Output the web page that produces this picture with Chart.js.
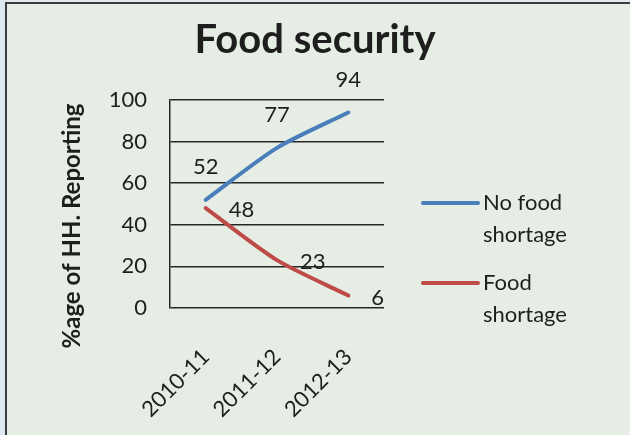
<!DOCTYPE html>
<html>
<head>
<meta charset="utf-8">
<script src="https://cdn.jsdelivr.net/npm/chart.js@4.4.1/dist/chart.umd.min.js"></script>
<style>
  html, body { margin: 0; padding: 0; background: #dde8f1; }
  #frame {
    position: absolute; left: 5px; top: 2px; right: -4px; bottom: -4px;
    background: #e6ede4;
    border-left: 2px solid #3b3b3b;
    border-top: 2px solid #3b3b3b;
  }
  #wrap { position: absolute; left: 0; top: 0; width: 630px; height: 435px; }
</style>
</head>
<body>
<div id="frame"></div>
<div id="wrap"><canvas id="foodChart" width="630" height="435"></canvas></div>
<script>
  const years = ["2010-11", "2011-12", "2012-13"];
  const noShortage = [52, 77, 94];
  const shortage = [48, 23, 6];
  const seriesNames = [["No food", "shortage"], ["Food", "shortage"]];
  const yTicks = [0, 20, 40, 60, 80, 100];

  const textColor = "#1e1e1e";
  const fontFamily = "Lato, 'Open Sans', sans-serif";

  // chart title centred over the whole canvas
  Chart.register({
    id: "centerTitle",
    afterDraw(chart) {
      const { ctx, width } = chart;
      ctx.save();
      ctx.font = `bold 40px ${fontFamily}`;
      ctx.fillStyle = textColor;
      ctx.textAlign = "center";
      ctx.textBaseline = "alphabetic";
      ctx.fillText("Food security", width / 2, 53);
      ctx.restore();
    },
  });

  // value labels: blue above the point, red to the right of it
  Chart.register({
    id: "valueLabels",
    afterDatasetsDraw(chart) {
      const { ctx } = chart;
      ctx.save();
      ctx.font = `22px ${fontFamily}`;
      ctx.fillStyle = textColor;
      ctx.textBaseline = "middle";
      chart.data.datasets.forEach((ds, di) => {
        const meta = chart.getDatasetMeta(di);
        meta.data.forEach((pt, i) => {
          if (ds.labelPos === "above") {
            ctx.textAlign = "center";
            ctx.fillText(ds.data[i], pt.x, pt.y - 33);
          } else {
            ctx.textAlign = "left";
            ctx.fillText(ds.data[i], pt.x + 23, pt.y + 2);
          }
        });
      });
      ctx.restore();
    },
  });

  // legend on the right with two-line names
  Chart.register({
    id: "sideLegend",
    afterDraw(chart) {
      const { ctx, chartArea } = chart;
      ctx.save();
      ctx.font = `22px ${fontFamily}`;
      ctx.fillStyle = textColor;
      ctx.textBaseline = "middle";
      ctx.textAlign = "left";
      chart.data.datasets.forEach((ds, di) => {
        const y = chartArea.top + 103 + di * 80;
        const x0 = chartArea.right + 39;
        ctx.strokeStyle = ds.borderColor;
        ctx.lineWidth = 4;
        ctx.lineCap = "round";
        ctx.beginPath();
        ctx.moveTo(x0, y);
        ctx.lineTo(x0 + 55, y);
        ctx.stroke();
        ds.label.forEach((line, li) => {
          ctx.fillText(line, x0 + 60, y + li * 32);
        });
      });
      ctx.restore();
    },
  });

  // rotated y axis title
  Chart.register({
    id: "yTitle",
    afterDraw(chart) {
      const { ctx, chartArea } = chart;
      ctx.save();
      ctx.translate(chartArea.left - 98, chartArea.bottom - 82);
      ctx.rotate(-Math.PI / 2);
      ctx.font = `bold 24px ${fontFamily}`;
      ctx.fillStyle = textColor;
      ctx.textAlign = "center";
      ctx.textBaseline = "middle";
      ctx.fillText("%age of HH. Reporting", 0, 0);
      ctx.restore();
    },
  });

  const ctx = document.getElementById("foodChart").getContext("2d");
  new Chart(ctx, {
    type: "line",
    data: {
      labels: years,
      datasets: [
        {
          label: seriesNames[0],
          data: noShortage,
          borderColor: "#4a7ebb",
          borderWidth: 4,
          pointRadius: 0,
          tension: 0.25,
          borderCapStyle: "round",
          labelPos: "above",
        },
        {
          label: seriesNames[1],
          data: shortage,
          borderColor: "#be4b48",
          borderWidth: 4,
          pointRadius: 0,
          tension: 0.25,
          borderCapStyle: "round",
          labelPos: "right",
        },
      ],
    },
    options: {
      responsive: false,
      animation: false,
      layout: { padding: { left: 0, right: 246, top: 100, bottom: 0 } },
      plugins: {
        legend: { display: false },
        tooltip: { enabled: false },
        title: { display: false },
      },
      scales: {
        x: {
          offset: true,
          grid: { display: false, drawTicks: false },
          border: { display: false },
          ticks: {
            color: textColor,
            font: { family: fontFamily, size: 22 },
            minRotation: 45,
            maxRotation: 45,
            padding: 36,
          },
          afterFit(scale) { scale.height = 127; },
        },
        y: {
          min: 0,
          max: 100,
          afterBuildTicks(scale) { scale.ticks = yTicks.map((v) => ({ value: v })); },
          grid: { color: "#262626", lineWidth: 1.5, drawTicks: false },
          border: { display: true, color: "#262626", width: 1.5 },
          ticks: {
            color: textColor,
            font: { family: fontFamily, size: 22 },
            padding: 23,
          },
          afterFit(scale) { scale.width = 170; },
        },
      },
    },
  });
</script>
</body>
</html>
